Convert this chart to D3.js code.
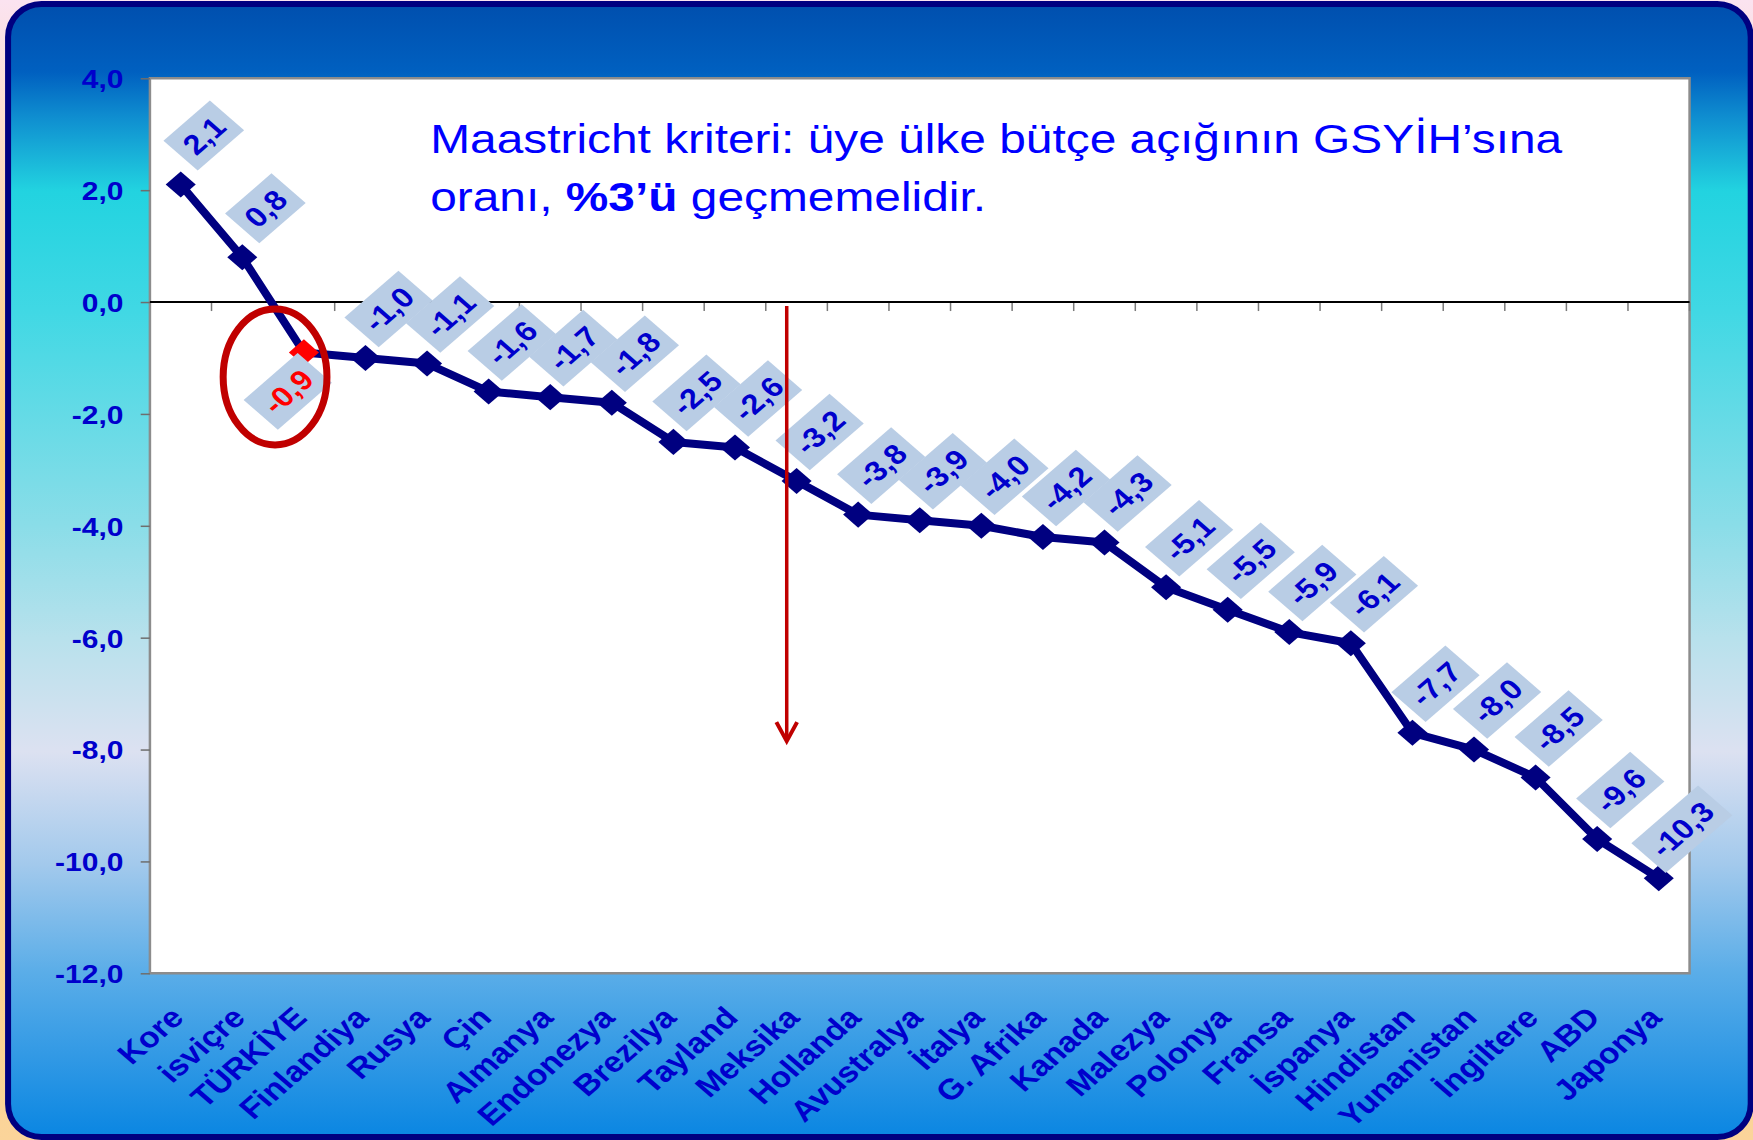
<!DOCTYPE html>
<html lang="tr">
<head>
<meta charset="utf-8">
<title>Bütçe açığı / GSYİH</title>
<script src="https://cdn.jsdelivr.net/npm/d3@7"></script>
<style>
  html, body { margin: 0; padding: 0; background: #fff; overflow: hidden; }
  svg { display: block; font-family: "Liberation Sans", Arial, sans-serif; }
</style>
</head>
<body>
<div id="chart"></div>
<script>
// --------------------------------------
//  Data
// --------------------------------------

const countries = ["Kore", "isviçre", "TÜRKİYE", "Finlandiya", "Rusya", "Çin", "Almanya",
  "Endonezya", "Brezilya", "Tayland", "Meksika", "Hollanda", "Avustralya", "İtalya",
  "G. Afrika", "Kanada", "Malezya", "Polonya", "Fransa", "İspanya", "Hindistan",
  "Yunanistan", "İngiltere", "ABD", "Japonya"];

const deficit = [2.1, 0.8, -0.9, -1.0, -1.1, -1.6, -1.7, -1.8, -2.5, -2.6, -3.2, -3.8,
  -3.9, -4.0, -4.2, -4.3, -5.1, -5.5, -5.9, -6.1, -7.7, -8.0, -8.5, -9.6, -10.3];

const yTickValues = [4, 2, 0, -2, -4, -6, -8, -10, -12];
const yTickLabels = ["4,0", "2,0", "0,0", "-2,0", "-4,0", "-6,0", "-8,0", "-10,0", "-12,0"];

const highlight = "TÜRKİYE";
const arrowCountry = "Meksika";
const arrowRange = [0, -7.85];

const noteLine1 = "Maastricht kriteri: üye ülke bütçe açığının GSYİH’sına";
const noteLine2 = ["oranı, ", "%3’ü", " geçmemelidir."];

// --------------------------------------
//  Canvas (drawn on a 4:3 slide, stretched to the window)
// --------------------------------------

const width = 1753, height = 1140, vw = 1520;
const plot = {left: 130, right: 1465, top: 78.3, bottom: 973.3};

const svg = d3.select("#chart")
  .append("svg")
    .attr("width", width)
    .attr("height", height)
    .attr("viewBox", `0 0 ${vw} ${height}`)
    .attr("preserveAspectRatio", "none");

const defs = svg.append("defs");

const outerGrad = defs.append("linearGradient")
    .attr("id", "outer").attr("x1", 0).attr("y1", 0).attr("x2", 0).attr("y2", 1);
[[0, "#fbe3f0"], [0.4, "#ffcd72"], [1, "#fbd49a"]].forEach(([o, c]) =>
  outerGrad.append("stop").attr("offset", o).attr("stop-color", c));

const panelGrad = defs.append("linearGradient")
    .attr("id", "panel").attr("x1", 0).attr("y1", 0).attr("x2", 0).attr("y2", 1);
[[0, "#004fae"], [0.06, "#0060c0"], [0.1, "#0f8ed0"], [0.165, "#22d3e0"],
 [0.27, "#40d8e4"], [0.46, "#8adde8"], [0.56, "#b8e1ec"], [0.66, "#dce1f1"],
 [0.76, "#a2c9ec"], [0.855, "#5aade8"], [1, "#0a86e2"]].forEach(([o, c]) =>
  panelGrad.append("stop").attr("offset", o).attr("stop-color", c));

svg.append("rect")
    .attr("width", vw).attr("height", height)
    .attr("fill", "url(#outer)");

svg.append("rect")
    .attr("x", 7).attr("y", 4)
    .attr("width", 1511).attr("height", 1133)
    .attr("rx", 29).attr("ry", 33)
    .attr("fill", "url(#panel)")
    .attr("stroke", "#000080")
    .attr("stroke-width", 6)
    .attr("vector-effect", "non-scaling-stroke");

// --------------------------------------
//  Scales
// --------------------------------------

const x = d3.scaleBand()
    .domain(countries)
    .range([plot.left, plot.right]);

const y = d3.scaleLinear()
    .domain([-12, 4])
    .range([plot.bottom, plot.top]);

const cx = d => x(d) + x.bandwidth() / 2;

const fmt = d3.formatLocale({decimal: ",", thousands: ".", grouping: [3],
  currency: ["", ""], minus: "-"}).format(".1f");

const series = countries.map((c, i) => ({country: c, value: deficit[i]}));

// --------------------------------------
//  Plot area and axes
// --------------------------------------

svg.append("rect")
    .attr("x", plot.left).attr("y", plot.top)
    .attr("width", plot.right - plot.left)
    .attr("height", plot.bottom - plot.top)
    .attr("fill", "white")
    .attr("stroke", "#8c8c8c")
    .attr("stroke-width", 2.5)
    .attr("vector-effect", "non-scaling-stroke");

const yAxis = svg.append("g")
    .attr("transform", `translate(${plot.left}, 0)`)
    .call(d3.axisLeft(y)
      .tickValues(yTickValues)
      .tickFormat((d, i) => yTickLabels[i])
      .tickSize(8)
      .tickSizeOuter(0)
      .tickPadding(15));

yAxis.select(".domain").remove();
yAxis.selectAll(".tick line")
    .attr("stroke", "#6e6e6e")
    .attr("stroke-width", 1.5)
    .attr("vector-effect", "non-scaling-stroke");
yAxis.selectAll(".tick text")
    .attr("fill", "#0000cc")
    .attr("font-family", "'Liberation Sans', Arial, sans-serif")
    .attr("font-size", 26)
    .attr("font-weight", "bold")
    .attr("dy", "0.36em");

// category axis crossing at zero
svg.append("g")
  .selectAll("line")
  .data(countries)
  .join("line")
    .attr("x1", d => x(d) + x.bandwidth())
    .attr("x2", d => x(d) + x.bandwidth())
    .attr("y1", y(0))
    .attr("y2", y(0) + 9)
    .attr("stroke", "#7a7a7a")
    .attr("stroke-width", 1.5)
    .attr("vector-effect", "non-scaling-stroke");

svg.append("line")
    .attr("x1", plot.left).attr("x2", plot.right)
    .attr("y1", y(0)).attr("y2", y(0))
    .attr("stroke", "black")
    .attr("stroke-width", 2)
    .attr("vector-effect", "non-scaling-stroke");

svg.append("g")
  .selectAll("text")
  .data(countries)
  .join("text")
    .attr("transform", d => `translate(${cx(d) + 4}, ${plot.bottom + 46}) rotate(-45)`)
    .attr("text-anchor", "end")
    .attr("fill", "#0000cc")
    .attr("font-size", 29)
    .attr("font-weight", "bold")
    .text(d => d);

// --------------------------------------
//  Series
// --------------------------------------

const line = d3.line()
    .x(d => cx(d.country))
    .y(d => y(d.value));

svg.append("path")
    .datum(series)
    .attr("d", line)
    .attr("fill", "none")
    .attr("stroke", "#000080")
    .attr("stroke-width", 8)
    .attr("stroke-linejoin", "round")
    .attr("vector-effect", "non-scaling-stroke");

svg.append("g")
  .selectAll("path")
  .data(series)
  .join("path")
    .attr("d", d3.symbol(d3.symbolSquare, 340))
    .attr("transform", d => `translate(${cx(d.country)}, ${y(d.value)}) rotate(45)`)
    .attr("fill", d => d.country === highlight ? "#ff0000" : "#000080");

// --------------------------------------
//  Value labels
// --------------------------------------

const labels = svg.append("g")
  .selectAll("g")
  .data(series)
  .join("g")
    .attr("transform", d => d.country === highlight
      ? `translate(${cx(d.country) - 14}, ${y(d.value) + 39}) rotate(-45)`
      : `translate(${cx(d.country) + 20}, ${y(d.value) - 49}) rotate(-45)`);

labels.append("rect")
    .attr("fill", "#b9cde5");

labels.append("text")
    .attr("text-anchor", "middle")
    .attr("dy", "0.36em")
    .attr("font-size", 28)
    .attr("font-weight", "bold")
    .attr("fill", d => d.country === highlight ? "#ff0000" : "#0000cc")
    .text(d => fmt(d.value));

labels.each(function() {
  const g = d3.select(this);
  const w = g.select("text").node().getComputedTextLength();
  g.select("rect")
      .attr("x", -w / 2 - 9)
      .attr("y", -21)
      .attr("width", w + 18)
      .attr("height", 42);
});

// --------------------------------------
//  Annotations
// --------------------------------------

const hl = series.find(d => d.country === highlight);

svg.append("ellipse")
    .attr("cx", cx(hl.country) - 25)
    .attr("cy", y(hl.value) + 24.5)
    .attr("rx", 45)
    .attr("ry", 68)
    .attr("fill", "none")
    .attr("stroke", "#c00000")
    .attr("stroke-width", 7)
    .attr("vector-effect", "non-scaling-stroke");

const ax = x(arrowCountry) + x.bandwidth() * 0.34;
const tipY = y(arrowRange[1]);

const arrow = svg.append("g")
    .attr("stroke", "#c00000")
    .attr("fill", "none")
    .attr("stroke-width", 3.5);

arrow.append("line")
    .attr("x1", ax).attr("x2", ax)
    .attr("y1", y(arrowRange[0]) + 4).attr("y2", tipY - 2)
    .attr("vector-effect", "non-scaling-stroke");

arrow.append("path")
    .attr("d", `M${ax - 9},${tipY - 19} L${ax},${tipY} L${ax + 9},${tipY - 19}`)
    .attr("stroke-width", 4)
    .attr("stroke-linejoin", "miter")
    .attr("vector-effect", "non-scaling-stroke");

const note = svg.append("text")
    .attr("x", 373)
    .attr("y", 153)
    .attr("font-size", 41.5)
    .attr("fill", "#0000ff");

note.append("tspan").text(noteLine1);

const line2 = note.append("tspan")
    .attr("x", 373)
    .attr("y", 211);
noteLine2.forEach((t, i) =>
  line2.append("tspan")
    .attr("font-weight", i === 1 ? "bold" : "normal")
    .text(t));
</script>
</body>
</html>
